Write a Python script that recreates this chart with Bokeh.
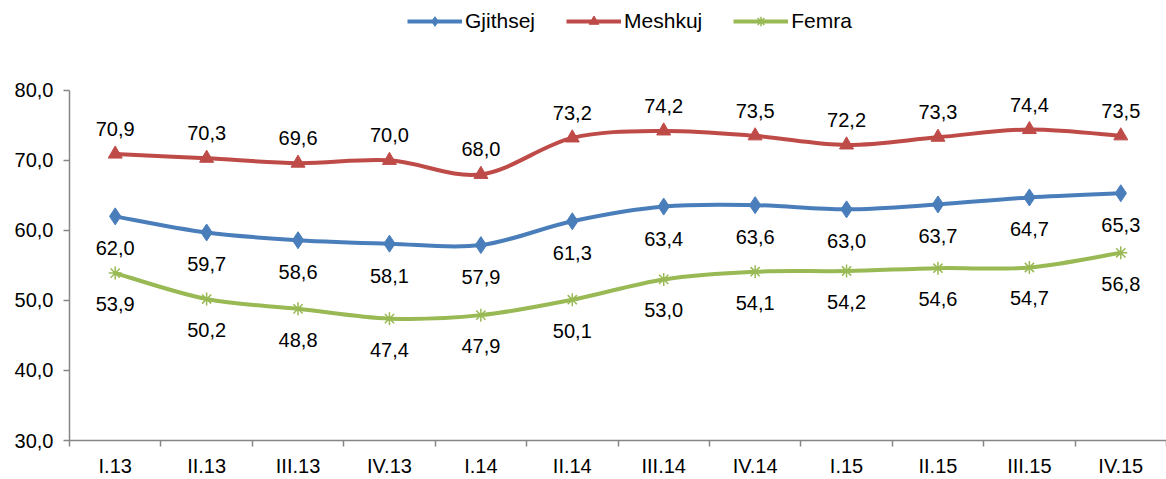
from bokeh.plotting import figure
from bokeh.models import ColumnDataSource, FixedTicker, Legend, LegendItem, Range1d
from bokeh.core.properties import value
from bokeh.embed import file_html
from bokeh.resources import INLINE

categories = ["I.13", "II.13", "III.13", "IV.13", "I.14", "II.14", "III.14", "IV.14",
              "I.15", "II.15", "III.15", "IV.15"]
gjithsej = [62.0, 59.7, 58.6, 58.1, 57.9, 61.3, 63.4, 63.6, 63.0, 63.7, 64.7, 65.3]
meshkuj = [70.9, 70.3, 69.6, 70.0, 68.0, 73.2, 74.2, 73.5, 72.2, 73.3, 74.4, 73.5]
femra = [53.9, 50.2, 48.8, 47.4, 47.9, 50.1, 53.0, 54.1, 54.2, 54.6, 54.7, 56.8]
y_ticks = [30, 40, 50, 60, 70, 80]

FONT = "Liberation Sans"
BLUE, RED, GREEN = "#4A7EBB", "#BE4B48", "#98B954"

W, H = 1166, 479
LEFT, BOTTOM = 69, 38
AXIS_PX = 351  # pixel height of the 30..80 value span
frame_h = H - BOTTOM
y_top = 30 + 50 * frame_h / AXIS_PX

p = figure(width=W, height=H, output_backend="svg", toolbar_location=None,
           x_range=Range1d(-0.5, len(categories) - 0.5), y_range=Range1d(30, y_top),
           min_border_left=LEFT, min_border_right=0, min_border_top=0, min_border_bottom=BOTTOM)
p.outline_line_color = None
p.xgrid.grid_line_color = None
p.ygrid.grid_line_color = None
p.background_fill_color = "white"
p.border_fill_color = "white"

xs = list(range(len(categories)))

xa = p.xaxis[0]
xa.ticker = FixedTicker(ticks=xs, minor_ticks=[i - 0.5 for i in range(len(categories) + 1)])
xa.major_label_overrides = {i: c for i, c in enumerate(categories)}
xa.major_tick_line_color = None
xa.major_tick_in = 0
xa.major_tick_out = 0
xa.minor_tick_line_color = "#868686"
xa.minor_tick_line_width = 1.5
xa.minor_tick_in = 0
xa.minor_tick_out = 6
xa.axis_line_color = "#868686"
xa.axis_line_width = 1.5
xa.major_label_text_font = FONT
xa.major_label_text_font_size = "20px"
xa.major_label_text_color = "black"
xa.major_label_standoff = 8

ya = p.yaxis[0]
ya.ticker = FixedTicker(ticks=y_ticks, minor_ticks=[])
ya.bounds = (30, 80)
ya.major_label_overrides = {t: f"{t:.1f}".replace(".", ",") for t in y_ticks}
ya.major_tick_line_color = "#868686"
ya.major_tick_line_width = 1.5
ya.major_tick_in = 0
ya.major_tick_out = 6
ya.axis_line_color = "#868686"
ya.axis_line_width = 1.5
ya.major_label_text_font = FONT
ya.major_label_text_font_size = "20px"
ya.major_label_text_color = "black"
ya.major_label_standoff = 10


def smooth_segments(x, y):
    n = len(x)
    d = dict(x0=[], y0=[], x1=[], y1=[], cx0=[], cy0=[], cx1=[], cy1=[])
    for i in range(n - 1):
        xp, yp = (x[i - 1], y[i - 1]) if i > 0 else (x[i], y[i])
        xn, yn = (x[i + 2], y[i + 2]) if i + 2 < n else (x[i + 1], y[i + 1])
        d["x0"].append(x[i]); d["y0"].append(y[i])
        d["x1"].append(x[i + 1]); d["y1"].append(y[i + 1])
        d["cx0"].append(x[i] + (x[i + 1] - xp) / 6)
        d["cy0"].append(y[i] + (y[i + 1] - yp) / 6)
        d["cx1"].append(x[i + 1] - (xn - x[i]) / 6)
        d["cy1"].append(y[i + 1] - (yn - y[i]) / 6)
    return ColumnDataSource(d)


series = [
    ("Gjithsej", gjithsej, BLUE, "diamond", 17, 32),
    ("Meshkuj", meshkuj, RED, "triangle", 14, -25),
    ("Femra", femra, GREEN, "asterisk", 13, 31),
]

items = []
for name, vals, color, marker, msize, off in series:
    bz = p.bezier(x0="x0", y0="y0", x1="x1", y1="y1", cx0="cx0", cy0="cy0", cx1="cx1", cy1="cy1",
                  source=smooth_segments(xs, vals), line_color=color, line_width=4)
    src = ColumnDataSource(dict(x=xs, y=vals, lab=[f"{v:.1f}".replace(".", ",") for v in vals]))
    if marker == "asterisk":
        sc = p.scatter("x", "y", source=src, marker=marker, size=msize, line_color=color,
                       line_width=1.5, fill_color=color)
    else:
        sc = p.scatter("x", "y", source=src, marker=marker, size=msize, line_color=color,
                       fill_color=color)
    p.text("x", "y", text="lab", source=src, y_offset=off, text_align="center",
           text_baseline="middle", text_font=value(FONT), text_font_size="20px",
           text_color="black")
    items.append(LegendItem(label=name, renderers=[bz, sc]))

legend = Legend(items=items, orientation="horizontal", location=(338, frame_h - 34),
                label_text_font=FONT, label_text_font_size="21px", label_text_color="black",
                glyph_width=55, glyph_height=24, spacing=31, label_standoff=3,
                border_line_color=None, background_fill_alpha=0, padding=0, margin=0)
p.add_layout(legend, "center")

open("out.html", "w").write(file_html(p, INLINE))
